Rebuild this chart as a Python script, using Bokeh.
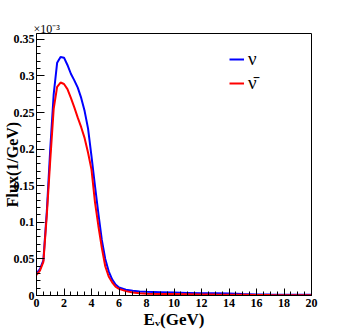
from bokeh.plotting import figure
from bokeh.models import (Legend, LegendItem, SingleIntervalTicker,
                          CustomJSTickFormatter, Range1d)
from bokeh.embed import file_html
from bokeh.resources import INLINE

# ---- data ----
energy = [0, 0.25, 0.5, 0.75, 1.0, 1.25, 1.5, 1.75, 2.0, 2.25, 2.5, 2.75, 3.0,
          3.25, 3.5, 3.75, 4.0, 4.25, 4.5, 4.75, 5.0, 5.25, 5.5, 5.75, 6.0,
          6.5, 7.0, 7.5, 8, 9, 10, 11, 12, 13, 14, 15, 16, 17, 18, 19, 20]
flux_nu = [0.030, 0.036, 0.048, 0.115, 0.200, 0.275, 0.318, 0.326, 0.325,
           0.315, 0.303, 0.294, 0.284, 0.270, 0.252, 0.228, 0.190, 0.150,
           0.112, 0.076, 0.050, 0.033, 0.022, 0.015, 0.011, 0.008, 0.0065,
           0.0055, 0.005, 0.0045, 0.004, 0.0035, 0.003, 0.003, 0.0028, 0.002,
           0.0015, 0.0012, 0.001, 0.001, 0.001]
flux_nubar = [0.028, 0.034, 0.046, 0.110, 0.185, 0.255, 0.285, 0.291, 0.289,
              0.282, 0.270, 0.257, 0.243, 0.230, 0.215, 0.195, 0.172, 0.128,
              0.095, 0.065, 0.040, 0.026, 0.018, 0.012, 0.009, 0.006, 0.004,
              0.003, 0.0025, 0.002, 0.002, 0.0018, 0.0015, 0.0012, 0.001,
              0.001, 0.0008, 0.0006, 0.0005, 0.0005, 0.0005]
series_labels = ["ν", "ν\u0304"]
x_label = "E\u1d65(GeV)"
y_label = "Flux(1/GeV)"
exponent_label = "×10\u207b\u00b3"

SERIF = "Liberation Serif"

p = figure(width=340, height=331, output_backend="svg", toolbar_location=None,
           x_range=Range1d(0, 20), y_range=Range1d(0, 0.358),
           min_border_left=35, min_border_right=29, min_border_top=33,
           min_border_bottom=33)
p.background_fill_color = "white"
p.border_fill_color = "white"
p.outline_line_color = "black"
p.outline_line_width = 1
p.grid.visible = False

r_nu = p.line(energy, flux_nu, line_color="#0000ff", line_width=2)
r_nubar = p.line(energy, flux_nubar, line_color="#ff0000", line_width=2)

p.xaxis.ticker = SingleIntervalTicker(interval=2, num_minor_ticks=4)
p.yaxis.ticker = SingleIntervalTicker(interval=0.05, num_minor_ticks=5)
p.xaxis.formatter = CustomJSTickFormatter(code="return String(Math.round(tick*100)/100);")
p.yaxis.formatter = CustomJSTickFormatter(code="return String(Math.round(tick*100)/100);")

for ax in (p.xaxis, p.yaxis):
    ax.major_tick_in = 8
    ax.major_tick_out = 0
    ax.minor_tick_in = 4
    ax.minor_tick_out = 0
    ax.axis_line_color = "black"
    ax.major_tick_line_color = "black"
    ax.minor_tick_line_color = "black"
    ax.major_label_text_font = SERIF
    ax.major_label_text_font_style = "bold"
    ax.major_label_text_font_size = "12px"
    ax.major_label_text_color = "black"
    ax.axis_label_text_font = SERIF
    ax.axis_label_text_font_style = "bold"
    ax.axis_label_text_color = "black"
p.xaxis.major_tick_in = 7
p.xaxis.major_label_standoff = 3
p.yaxis.major_label_standoff = 2

p.xaxis.axis_label = x_label
p.xaxis.axis_label_text_font_size = "17px"
p.xaxis.axis_label_standoff = 0
p.yaxis.axis_label = y_label
p.yaxis.axis_label_text_font_size = "16px"
p.yaxis.axis_label_standoff = -10

p.title.text = exponent_label
p.title.align = "left"
p.title.vertical_align = "bottom"
p.title.offset = -3
p.title.standoff = -4
p.title.text_font = SERIF
p.title.text_font_style = "normal"
p.title.text_font_size = "12px"
p.title.text_color = "black"

legend = Legend(items=[LegendItem(label=series_labels[0], renderers=[r_nu]),
                       LegendItem(label=series_labels[1], renderers=[r_nubar])],
                location=(193, 201), orientation="vertical",
                background_fill_alpha=0, border_line_alpha=0,
                padding=0, margin=0, spacing=2,
                glyph_width=15, glyph_height=20, label_height=20,
                label_standoff=4, label_text_font=SERIF,
                label_text_font_size="19px", label_text_color="black",
                label_text_baseline="middle")
p.add_layout(legend)

open("out.html", "w").write(file_html(p, INLINE))
